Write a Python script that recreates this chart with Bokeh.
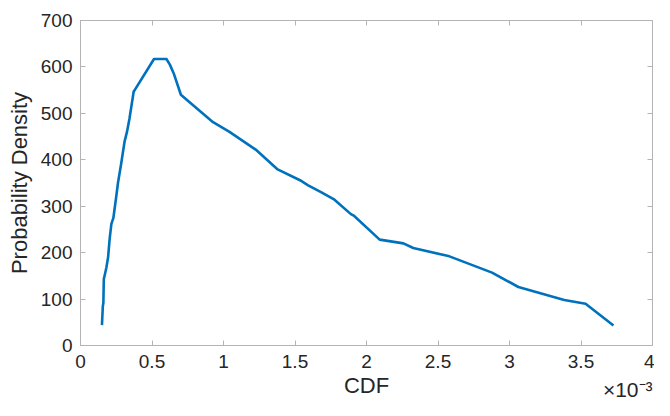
from bokeh.plotting import figure
from bokeh.models import Range1d, FixedTicker, LinearAxis, Title
from bokeh.embed import file_html
from bokeh.resources import INLINE

# CDF values in units of 1e-3 (axis shows x10^-3 multiplier)
cdf_x1e3 = [0.150, 0.156, 0.160, 0.163, 0.172, 0.181, 0.193, 0.204, 0.216, 0.230,
            0.250, 0.262, 0.284, 0.308, 0.325, 0.342, 0.372, 0.381, 0.514, 0.601,
            0.625, 0.652, 0.702, 0.767, 0.927, 1.042, 1.225, 1.375, 1.535, 1.592,
            1.685, 1.776, 1.891, 1.914, 2.092, 2.258, 2.327, 2.580, 2.878, 3.062,
            3.383, 3.532, 3.727]
density = [44, 84, 92, 143, 155, 168, 190, 230, 262, 275,
           321, 350, 391, 439, 460, 488, 547, 551, 617, 617,
           605, 586, 540, 523, 481, 460, 422, 380, 356, 345,
           330, 314, 283, 279, 228, 220, 210, 192, 157, 126,
           98, 90, 43]

x_ticks = [0, 0.5, 1, 1.5, 2, 2.5, 3, 3.5, 4]
x_tick_labels = ["0", "0.5", "1", "1.5", "2", "2.5", "3", "3.5", "4"]
y_ticks = [0, 100, 200, 300, 400, 500, 600, 700]
y_tick_labels = ["0", "100", "200", "300", "400", "500", "600", "700"]

x_label = "CDF"
y_label = "Probability Density"
x_multiplier = "\u00d710\u207b\u00b3"

FONT = "Liberation Sans"
TXT = "#262626"
AX = "#b4b4b4"

p = figure(width=654, height=400, output_backend="svg", toolbar_location=None,
           x_range=Range1d(0, 4), y_range=Range1d(0, 700),
           min_border_left=80, min_border_right=2, min_border_top=20,
           min_border_bottom=53, background_fill_color="white",
           border_fill_color="white", outline_line_color=AX)
p.xgrid.visible = False
p.ygrid.visible = False

p.line(cdf_x1e3, density, line_color="#0072BD", line_width=2.6, line_join="round")

# bottom axis
xa = p.xaxis[0]
xa.ticker = FixedTicker(ticks=x_ticks)
xa.major_label_overrides = {t: l for t, l in zip(x_ticks, x_tick_labels)}
xa.major_tick_in = 5
xa.major_tick_out = 0
xa.minor_tick_line_color = None
xa.axis_line_color = AX
xa.major_tick_line_color = AX
xa.major_label_text_font = FONT
xa.major_label_text_font_size = "19px"
xa.major_label_text_color = TXT
xa.major_label_standoff = 9
xa.axis_label = x_label
xa.axis_label_text_font = FONT
xa.axis_label_text_font_size = "22px"
xa.axis_label_text_font_style = "normal"
xa.axis_label_text_color = TXT
xa.axis_label_standoff = 2

# left axis
ya = p.yaxis[0]
ya.ticker = FixedTicker(ticks=y_ticks)
ya.major_label_overrides = {t: l for t, l in zip(y_ticks, y_tick_labels)}
ya.major_tick_in = 5
ya.major_tick_out = 0
ya.minor_tick_line_color = None
ya.axis_line_color = AX
ya.major_tick_line_color = AX
ya.major_label_text_font = FONT
ya.major_label_text_font_size = "19px"
ya.major_label_text_color = TXT
ya.major_label_standoff = 8
ya.axis_label = y_label
ya.axis_label_text_font = FONT
ya.axis_label_text_font_size = "22px"
ya.axis_label_text_font_style = "normal"
ya.axis_label_text_color = TXT
ya.axis_label_standoff = 6

# mirrored axes (top / right) with inward ticks only
for loc, tks in (("above", x_ticks), ("right", y_ticks)):
    ax = LinearAxis(ticker=FixedTicker(ticks=tks), major_tick_in=5, major_tick_out=0,
                    minor_tick_line_color=None, axis_line_color=AX,
                    major_tick_line_color=AX, major_label_text_font_size="0px",
                    major_label_standoff=0)
    ax.major_label_overrides = {t: "" for t in tks}
    p.add_layout(ax, loc)

# exponent multiplier at the lower right, level with the axis label
p.add_layout(Title(text=x_multiplier, align="right", vertical_align="top",
                   text_font=FONT, text_font_size="21px", text_font_style="normal",
                   text_color=TXT, standoff=-46), "below")

open("out.html", "w").write(file_html(p, INLINE))
